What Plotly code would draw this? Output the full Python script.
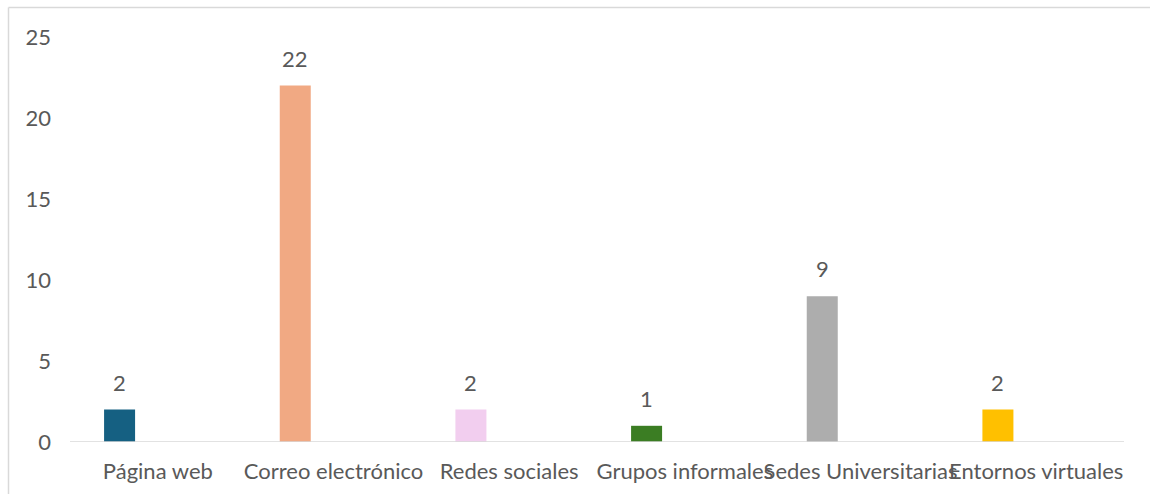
import plotly.graph_objects as go

categories = ["Página web", "Correo electrónico", "Redes sociales",
              "Grupos informales", "Sedes Universitarias", "Entornos virtuales"]
values = [2, 22, 2, 1, 9, 2]
colors = ["#156082", "#F1A983", "#F2CEEF", "#3B7D23", "#ADADAD", "#FFC000"]
y_ticks = [0, 5, 10, 15, 20, 25]

W, H = 1150, 494
L, T = 70, 37
pw, ph = 1054, 405
R, B = W - L - pw, H - T - ph

FONT = "Lato"
TXT = "#595959"
FS = 22
BORDER = "#D9D9D9"

BAR_W = 0.1765
BAR_OFF = -0.306

fig = go.Figure()
fig.add_trace(go.Bar(
    x=list(range(len(categories))),
    y=values,
    marker=dict(color=colors, line=dict(width=0)),
    width=BAR_W,
    offset=BAR_OFF,
    showlegend=False,
    hoverinfo="x+y",
))

annotations = [
    dict(x=i + BAR_OFF + BAR_W / 2, y=v, xref="x", yref="y",
         text=str(v), showarrow=False, yanchor="bottom", yshift=12,
         font=dict(family=FONT, size=FS, color=TXT))
    for i, v in enumerate(values)
]

x_left = (8.5 - L) / pw
x_right = (W + 10 - L) / pw
y_top = 1 + (T - 7.5) / ph
y_bot = -(B + 10) / ph

fig.update_layout(
    width=W, height=H,
    margin=dict(l=L, r=R, t=T, b=B, autoexpand=False),
    paper_bgcolor="white", plot_bgcolor="white",
    font=dict(family=FONT, size=FS, color=TXT),
    xaxis=dict(
        range=[-0.5, len(categories) - 0.5],
        tickmode="array",
        tickvals=list(range(len(categories))),
        ticktext=categories,
        tickangle=0,
        showgrid=False, zeroline=False,
        showline=False,
        ticks="", ticklabelstandoff=14,
        tickfont=dict(family=FONT, size=FS, color=TXT),
    ),
    yaxis=dict(
        range=[0, 25],
        tickmode="array",
        tickvals=y_ticks,
        ticktext=[str(t) for t in y_ticks],
        showgrid=False, zeroline=False, showline=False,
        ticks="", ticklabelstandoff=18,
        tickfont=dict(family=FONT, size=FS, color=TXT),
    ),
    annotations=annotations,
    shapes=[
        dict(type="line", xref="paper", yref="y", x0=0, x1=1, y0=0, y1=0,
             line=dict(color=BORDER, width=1.5)),
        dict(type="line", xref="paper", yref="paper",
             x0=x_left, x1=x_right, y0=y_top, y1=y_top,
             line=dict(color=BORDER, width=1.5), layer="below"),
        dict(type="line", xref="paper", yref="paper",
             x0=x_left, x1=x_left, y0=y_bot, y1=y_top,
             line=dict(color=BORDER, width=1.5), layer="below"),
    ],
)

fig.write_html(
    "out.html",
    config={"displayModeBar": False},
    post_script="document.body.style.margin='0';document.body.style.overflow='hidden';",
)
